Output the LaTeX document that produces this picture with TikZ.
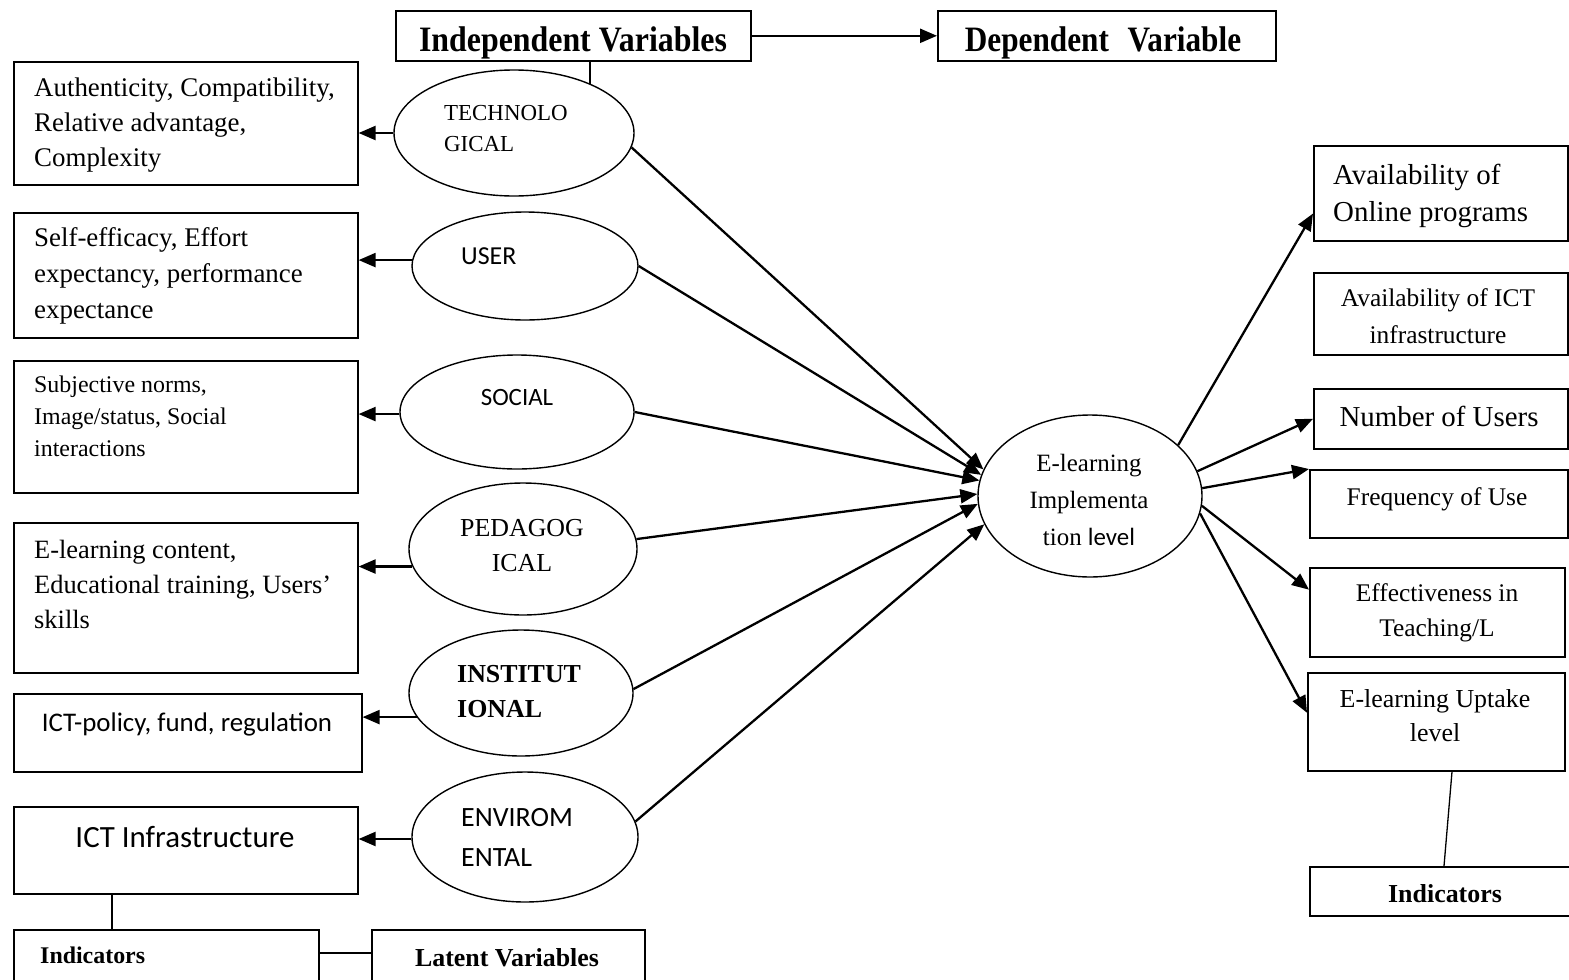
\documentclass[tikz,border=0pt]{standalone}
\usepackage{fontspec}
\usepackage{graphicx}
\setmainfont{Liberation Serif}
\newfontfamily\calib{Carlito}
\usetikzlibrary{shapes.geometric,arrows.meta,calc}
\begin{document}
\begin{tikzpicture}[x=1bp,y=-1bp,
  box/.style={draw,line width=1.6bp,rectangle,inner sep=0pt,anchor=north west},
  oval/.style={draw,line width=1.4bp,ellipse,inner sep=0pt},
  txt/.style={inner sep=0pt,align=left},
  ctxt/.style={inner sep=0pt,align=center},
  arr/.style={line width=2.3bp,-{Triangle[length=17bp,width=14bp]}},
  link/.style={line width=1.3bp}
]
\useasboundingbox (0,0) rectangle (1569,979);

% header boxes
\node[box,minimum width=355bp,minimum height=50bp] (indep) at (395,10) {};
\node[box,minimum width=338bp,minimum height=50bp] (dep) at (937,10) {};
\begin{scope}
  \clip (indep.south west) rectangle (indep.north east);
  \node[ctxt,anchor=base,font=\fontsize{32}{38}\selectfont\bfseries] (indepT) at (573,51) {\scalebox{1}[1.12]{Independent Variables}};
\end{scope}
\begin{scope}
  \clip (dep.south west) rectangle (dep.north east);
  \node[ctxt,anchor=base,font=\fontsize{32}{38}\selectfont\bfseries] (depT) at (1103,51) {\scalebox{0.98}[1.12]{Dependent\hspace{0.6em}Variable}};
\end{scope}

% indicator boxes (left); multi-line texts are placed by their last baseline
\node[box,minimum width=344bp,minimum height=123bp] (b1) at (13,61) {};
\node[box,minimum width=344bp,minimum height=125bp] (b2) at (13,212) {};
\node[box,minimum width=344bp,minimum height=132bp] (b3) at (13,360) {};
\node[box,minimum width=344bp,minimum height=150bp] (b4) at (13,522) {};
\node[box,minimum width=348bp,minimum height=78bp] (b5) at (13,693) {};
\node[box,minimum width=344bp,minimum height=87bp] (b6) at (13,806) {};
\node[box,minimum width=305bp,minimum height=62bp] (ind1) at (13,929) {};
\node[box,minimum width=273bp,minimum height=62bp] (latent) at (371,929) {};

\node[txt,anchor=base west,font=\fontsize{27}{35}\selectfont] (b1t) at (34,166) {Authenticity, Compatibility,\\Relative advantage,\\Complexity};
\node[txt,anchor=base west,font=\fontsize{27}{36}\selectfont] (b2t) at (34,318) {Self-efficacy, Effort\\expectancy, performance\\expectance};
\node[txt,anchor=base west,font=\fontsize{24}{32}\selectfont] (b3t) at (34,456) {Subjective norms,\\Image/status, Social\\interactions};
\node[txt,anchor=base west,font=\fontsize{26.5}{35}\selectfont] (b4t) at (34,628) {E-learning content,\\Educational training, Users’\\skills};
\node[ctxt,anchor=base,font=\calib\fontsize{27}{32}\selectfont] (b5t) at (187,731) {ICT-policy, fund, regulation};
\node[ctxt,anchor=base,font=\calib\fontsize{31}{36}\selectfont] (b6t) at (185,847) {ICT Infrastructure};
\node[txt,anchor=base west,font=\fontsize{24}{30}\selectfont\bfseries] (ind1t) at (40,963) {Indicators};
\node[ctxt,anchor=base,font=\fontsize{26}{30}\selectfont\bfseries] (latentt) at (507,966) {Latent Variables};

% latent variables
\node[oval,minimum width=240bp,minimum height=126bp] (tech) at (514,133) {};
\node[oval,minimum width=226bp,minimum height=108bp] (user) at (525,266) {};
\node[oval,minimum width=234bp,minimum height=114bp] (social) at (517,412) {};
\node[oval,minimum width=228bp,minimum height=132bp] (ped) at (523,549) {};
\node[oval,minimum width=224bp,minimum height=126bp] (inst) at (521,693) {};
\node[oval,minimum width=226bp,minimum height=130bp] (env) at (525,837) {};
\node[oval,minimum width=224bp,minimum height=162bp] (elearn) at (1090,496) {};

\node[txt,anchor=base west,font=\fontsize{23}{31}\selectfont] (techt) at (444,151) {TECHNOLO\\GICAL};
\node[txt,anchor=base west,font=\calib\fontsize{26}{30}\selectfont] (usert) at (461,264) {USER};
\node[ctxt,anchor=base,font=\calib\fontsize{25}{30}\selectfont] (socialt) at (517,405) {SOCIAL};
\node[ctxt,anchor=base,font=\fontsize{26}{35}\selectfont] (pedt) at (522,571) {PEDAGOG\\ICAL};
\node[txt,anchor=base west,font=\fontsize{26}{35}\selectfont\bfseries] (instt) at (457,717) {INSTITUT\\IONAL};
\node[txt,anchor=base west,font=\calib\fontsize{28}{40}\selectfont] (envt) at (461,866) {ENVIROM\\ENTAL};
\node[ctxt,anchor=base,font=\fontsize{25}{37}\selectfont] (elearnt) at (1089,545) {E-learning\\Implementa\\tion {\calib level}};

% indicator boxes (right)
\node[box,minimum width=254bp,minimum height=95bp] (r1) at (1313,145) {};
\node[box,minimum width=254bp,minimum height=82bp] (r2) at (1313,272) {};
\node[box,minimum width=254bp,minimum height=60bp] (r3) at (1313,388) {};
\node[box,minimum width=258bp,minimum height=68bp] (r4) at (1309,469) {};
\node[box,minimum width=255bp,minimum height=89bp] (r5) at (1309,567) {};
\node[box,minimum width=257bp,minimum height=98bp] (r6) at (1307,672) {};
\node[box,minimum width=272bp,minimum height=49bp] (ind2) at (1309,866) {};

\node[txt,anchor=base west,font=\fontsize{29}{37}\selectfont] (r1t) at (1333,221) {Availability of\\Online programs};
\node[ctxt,anchor=base,font=\fontsize{25.5}{37}\selectfont] (r2t) at (1438,343) {Availability of ICT\\infrastructure};
\node[ctxt,anchor=base,font=\fontsize{29}{34}\selectfont] (r3t) at (1439,426) {Number of Users};
\node[ctxt,anchor=base,font=\fontsize{25.5}{30}\selectfont] (r4t) at (1437,505) {Frequency of Use};
\node[ctxt,anchor=base,font=\fontsize{25.5}{35}\selectfont] (r5t) at (1437,636) {Effectiveness in\\Teaching/L};
\node[ctxt,anchor=base,font=\fontsize{26}{34}\selectfont] (r6t) at (1435,741) {E-learning Uptake\\level};
\node[ctxt,anchor=base,font=\fontsize{26}{30}\selectfont\bfseries] (ind2t) at (1445,902) {Indicators};

% header links
\draw[arr] (indep.east) -- (dep.west);
\draw[link] (tech.33 |- indep.south) -- (tech.33);

% latent variable -> indicators
\draw[arr] (tech.west) -- (tech.west -| b1.east);
\draw[arr] (user.177) -- (user.177 -| b2.east);
\draw[arr] (social.181) -- (social.181 -| b3.east);
\draw[arr] (ped.189) -- (ped.189 -| b4.east);
\draw[arr] (inst.193) -- (inst.193 -| b5.east);
\draw[arr] (env.181) -- (env.181 -| b6.east);

% latent variables -> implementation level
\draw[arr] (tech.-7) -- (elearn.166);
\draw[arr] (user.east) -- (elearn.169);
\draw[arr] (social.east) -- (elearn.172);
\draw[arr] (ped.5) -- (elearn.179);
\draw[arr] (inst.2) -- (elearn.184);
\draw[arr] (env.8) -- (elearn.195);

% implementation level -> indicators
\draw[arr] (elearn.30) -- (r1.189);
\draw[arr] (elearn.13) -- (r3.west);
\draw[arr] (elearn.4) -- (r4.165);
\draw[arr] (elearn.-5) -- (r5.170);
\draw[arr] (elearn.-9) -- (r6.176);

% legend links
\draw[link] ($(b6.south west)+(99,0)$) -- ($(ind1.north west)+(99,0)$);
\draw[link] ($(ind1.north east)+(0,24)$) -- ($(latent.north west)+(0,24)$);
\draw[link] ($(r6.south west)+(145,0)$) -- ($(ind2.north west)+(135,0)$);
\end{tikzpicture}
\end{document}
